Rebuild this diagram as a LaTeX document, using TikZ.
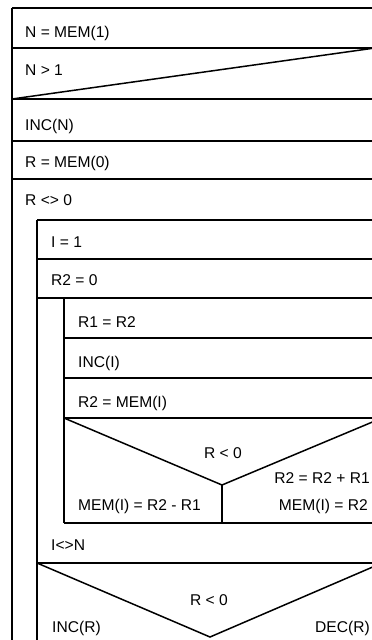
\documentclass[tikz,border=0pt]{standalone}
\usepackage{fontspec}
\setmainfont{Liberation Sans}
\begin{document}
\begin{tikzpicture}[x=1pt, y=-1pt,
    frame/.style={line width=1.5pt},
    stmt/.style={anchor=base west, inner sep=0pt, font=\fontsize{15.6}{18}\selectfont},
    rstmt/.style={anchor=base east, inner sep=0pt, font=\fontsize{15.6}{18}\selectfont},
    cond/.style={anchor=base, inner sep=0pt, font=\fontsize{15.6}{18}\selectfont}]
  \useasboundingbox (0,0) rectangle (372,640);
  \clip (0,0) rectangle (372,640);
  % outer block
  \foreach \y in {8,48,99,141,179}
    \draw[frame] (12,\y) -- (382,\y);
  \draw[frame] (12,8) -- (12,660);
  \draw[frame] (382,8) -- (382,660);
  \draw[frame] (12,99) -- (382,47);
  % while R <> 0
  \foreach \y in {220,259,298,563}
    \draw[frame] (37,\y) -- (382,\y);
  \draw[frame] (37,220) -- (37,660);
  % repeat until I<>N
  \foreach \y in {338,378,418,523}
    \draw[frame] (64,\y) -- (382,\y);
  \draw[frame] (64,298) -- (64,523);
  % if R < 0 (inner)
  \draw[frame] (64,418) -- (222,485) -- (382,418);
  \draw[frame] (222,485) -- (222,523);
  % if R < 0 (outer)
  \draw[frame] (37,563) -- (210,637) -- (382,563);
  % texts
  \node[stmt] (nmem) at (25,37) {N = MEM(1)};
  \node[stmt] (ncond) at (25,75) {N > 1};
  \node[stmt] (incn) at (25,130) {INC(N)};
  \node[stmt] (rmem) at (25,167) {R = MEM(0)};
  \node[stmt] (rloop) at (25,205) {R <> 0};
  \node[stmt] (ione) at (51,247) {I = 1};
  \node[stmt] (rtwo) at (51,285) {R2 = 0};
  \node[stmt] (rone) at (78,327) {R1 = R2};
  \node[stmt] (inci) at (78,367) {INC(I)};
  \node[stmt] (rtwomem) at (78,407) {R2 = MEM(I)};
  \node[cond] (rneg) at (223,458) {R < 0};
  \node[rstmt] (rtwoadd) at (370,483) {R2 = R2 + R1};
  \node[stmt] (memsub) at (78,510) {MEM(I) = R2 - R1};
  \node[rstmt] (memrtwo) at (368,510) {MEM(I) = R2};
  \node[stmt] (iloop) at (51,550) {I<>N};
  \node[cond] (rsign) at (209,605) {R < 0};
  \node[stmt] (incr) at (52,632) {INC(R)};
  \node[rstmt] (decr) at (370,632) {DEC(R)};
\end{tikzpicture}
\end{document}
